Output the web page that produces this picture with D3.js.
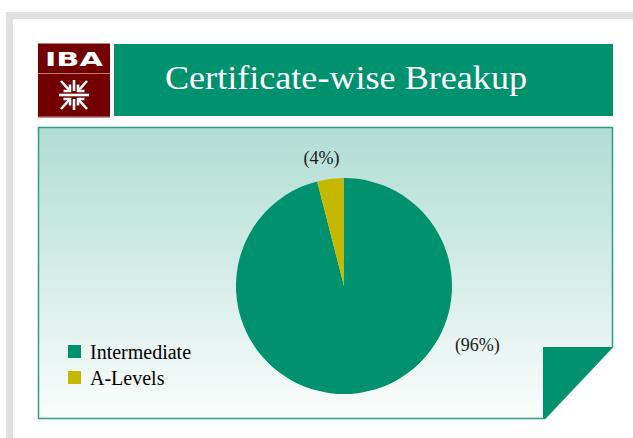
<!DOCTYPE html>
<html><head><meta charset="utf-8">
<script src="https://cdn.jsdelivr.net/npm/d3@7"></script>
<style>html,body{margin:0;padding:0;background:#fff;}svg{display:block;}</style>
</head><body>
<svg id="c" width="633" height="438"></svg>
<script>
const categories = ["Intermediate", "A-Levels"];
const values = [96, 4];
const labels = ["(96%)", "(4%)"];
const title = "Certificate-wise Breakup";
const colors = ["#00916e", "#c5b900"];

const SERIF = "'Liberation Serif', 'DejaVu Serif', serif";
const svg = d3.select("#c");
const W = 633, H = 438;

// outer frame
svg.append("rect").attr("x", 6).attr("y", 12).attr("width", W).attr("height", H).attr("fill", "#e1e1e1");
svg.append("rect").attr("x", 13).attr("y", 19).attr("width", W).attr("height", H).attr("fill", "#ffffff");

// logo
const logo = svg.append("g").attr("transform", "translate(38,43.5)");
logo.append("rect").attr("width", 72).attr("height", 74).attr("fill", "#730000");
logo.append("rect").attr("y", 73).attr("width", 72).attr("height", 1).attr("fill", "#c99a9a");
logo.append("line").attr("x1", 0).attr("x2", 72).attr("y1", 30).attr("y2", 30).attr("stroke", "#b97b7b").attr("stroke-width", 1);
logo.append("text").attr("x", 36).attr("y", 22).attr("text-anchor", "middle")
  .attr("font-family", "'DejaVu Sans', sans-serif").attr("font-weight", "bold").attr("font-size", 20)
  .attr("textLength", 58).attr("lengthAdjust", "spacingAndGlyphs").attr("fill", "#fff").text("IBA");
// symbol: inward arrows
const sym = logo.append("g").attr("transform", "translate(36,51.5)").attr("stroke", "#fff").attr("stroke-width", 2.6).attr("fill", "none").attr("stroke-linecap", "butt");
sym.append("line").attr("x1", -15).attr("x2", 15).attr("y1", 0).attr("y2", 0);
sym.append("line").attr("x1", 0).attr("x2", 0).attr("y1", -15).attr("y2", -4);
sym.append("line").attr("x1", 0).attr("x2", 0).attr("y1", 4).attr("y2", 15);
[[-1,-1],[1,-1],[-1,1],[1,1]].forEach(([sx, sy]) => {
  sym.append("line").attr("x1", sx*13).attr("y1", sy*14).attr("x2", sx*4).attr("y2", sy*4);
  sym.append("path").attr("d", `M${sx*4},${sy*10.5} L${sx*4},${sy*4} L${sx*10.5},${sy*4}`);
});

// title bar
svg.append("rect").attr("x", 114).attr("y", 44).attr("width", 499).attr("height", 72).attr("fill", "#00916e");
svg.append("text").attr("x", 165).attr("y", 89)
  .attr("font-family", SERIF).attr("font-size", 33)
  .attr("textLength", 362).attr("lengthAdjust", "spacingAndGlyphs")
  .attr("fill", "#fff").text(title);

// panel
const defs = svg.append("defs");
const grad = defs.append("linearGradient").attr("id", "bg").attr("x1", 0).attr("y1", 0).attr("x2", 0).attr("y2", 1);
grad.append("stop").attr("offset", "0%").attr("stop-color", "#b1ddd4");
grad.append("stop").attr("offset", "55%").attr("stop-color", "#d9eeea");
grad.append("stop").attr("offset", "100%").attr("stop-color", "#fafdfc");
svg.append("path").attr("d", "M38.5,127.5 L612.5,127.5 L612.5,347 L545,418.5 L38.5,418.5 Z")
  .attr("fill", "url(#bg)").attr("stroke", "#2c9f82").attr("stroke-width", 1.5);
svg.append("path").attr("d", "M543,347 L612.5,347 L545,418.5 L543,418.5 Z").attr("fill", "#00916e");

// pie
const cx = 344, cy = 286, R = 108;
const pie = d3.pie().sort(null).value(d => d)(values);
const arc = d3.arc().innerRadius(0).outerRadius(R);
const g = svg.append("g").attr("transform", `translate(${cx},${cy})`);
g.selectAll("path.slice").data(pie).join("path").attr("class", "slice")
  .attr("d", arc).attr("fill", (d, i) => colors[i]);

// labels (best-fit placement: angle in degrees clockwise from top, radius)
const labelPlace = [[114, 146], [350, 130]];
g.selectAll("text.lbl").data(pie).join("text").attr("class", "lbl")
  .attr("x", (d, i) => Math.sin(labelPlace[i][0] * Math.PI / 180) * labelPlace[i][1])
  .attr("y", (d, i) => -Math.cos(labelPlace[i][0] * Math.PI / 180) * labelPlace[i][1] + 6)
  .attr("text-anchor", "middle")
  .attr("font-family", SERIF).attr("font-size", 18).attr("fill", "#1a1a1a")
  .text((d, i) => labels[i]);

// legend
const leg = svg.append("g").attr("transform", "translate(68,345)");
categories.forEach((c, i) => {
  leg.append("rect").attr("x", 0).attr("y", i * 26).attr("width", 13).attr("height", 13).attr("fill", colors[i]);
  leg.append("text").attr("x", 22).attr("y", i * 26 + 14).attr("font-family", SERIF)
    .attr("font-size", 20).attr("fill", "#000").text(c);
});
</script>
</body></html>
